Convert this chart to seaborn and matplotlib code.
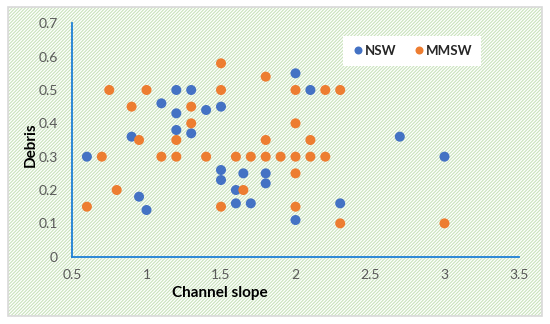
import pandas as pd
import matplotlib
matplotlib.use("Agg")
import matplotlib.pyplot as plt
import seaborn as sns
from matplotlib.patches import Rectangle

# values
nsw_slope = [0.6, 0.9, 0.95, 1.0, 1.1, 1.2, 1.2, 1.2, 1.3, 1.3, 1.4, 1.5, 1.5, 1.5,
             1.6, 1.6, 1.65, 1.7, 1.8, 1.8, 2.0, 2.0, 2.1, 2.3, 2.7, 3.0]
nsw_debris = [0.30, 0.36, 0.18, 0.14, 0.46, 0.50, 0.43, 0.38, 0.50, 0.37, 0.44, 0.45, 0.26, 0.23,
              0.20, 0.16, 0.25, 0.16, 0.25, 0.22, 0.55, 0.11, 0.50, 0.16, 0.36, 0.30]

mmsw_slope = [0.6, 0.7, 0.75, 0.8, 0.9, 0.95, 1.0, 1.1, 1.2, 1.2, 1.3, 1.3, 1.4, 1.5, 1.5, 1.5,
              1.6, 1.65, 1.7, 1.8, 1.8, 1.8, 1.9, 2.0, 2.0, 2.0, 2.0, 2.0, 2.1, 2.1,
              2.2, 2.2, 2.3, 2.3, 3.0]
mmsw_debris = [0.15, 0.30, 0.50, 0.20, 0.45, 0.35, 0.50, 0.30, 0.35, 0.30, 0.45, 0.40, 0.30, 0.58, 0.50, 0.15,
               0.30, 0.20, 0.30, 0.54, 0.35, 0.30, 0.30, 0.50, 0.40, 0.30, 0.25, 0.15, 0.35, 0.30,
               0.50, 0.30, 0.50, 0.10, 0.10]

x_ticks = [0.5, 1, 1.5, 2, 2.5, 3, 3.5]
x_tick_labels = ["0.5", "1", "1.5", "2", "2.5", "3", "3.5"]
y_ticks = [0, 0.1, 0.2, 0.3, 0.4, 0.5, 0.6, 0.7]
y_tick_labels = ["0", "0.1", "0.2", "0.3", "0.4", "0.5", "0.6", "0.7"]

df = pd.concat([
    pd.DataFrame({"slope": nsw_slope, "debris": nsw_debris, "group": "NSW"}),
    pd.DataFrame({"slope": mmsw_slope, "debris": mmsw_debris, "group": "MMSW"}),
], ignore_index=True)

sns.set_theme(style="white")
plt.rcParams["font.family"] = ["Lato", "DejaVu Sans"]
plt.rcParams["hatch.linewidth"] = 0.8

blue = "#4472C4"
orange = "#ED7D31"
axis_blue = "#1E7FD6"
grey_text = "#595959"

fig = plt.figure(figsize=(5.5, 3.24), dpi=100)

# hatched chart area with thin grey border, like the Excel chart area
fig.patches.append(Rectangle((8 / 550, 1 - 316 / 324), 534 / 550, 309 / 324,
                             transform=fig.transFigure, facecolor="white",
                             edgecolor="#C9E2BC", hatch="/" * 10, lw=0, zorder=-2))
fig.patches.append(Rectangle((8 / 550, 1 - 316 / 324), 534 / 550, 309 / 324,
                             transform=fig.transFigure, facecolor="none",
                             edgecolor="#D9D9D9", lw=1.2, zorder=-1))

ax = fig.add_axes([72 / 550, 1 - 256.7 / 324, 447 / 550, 233.4 / 324])
ax.set_facecolor("none")
ax.set_zorder(1)

sns.scatterplot(data=df, x="slope", y="debris", hue="group",
                palette={"NSW": blue, "MMSW": orange},
                s=52, edgecolor="none", ax=ax, zorder=3)

ax.set_xlim(0.5, 3.5)
ax.set_ylim(0, 0.7)
ax.set_xticks(x_ticks)
ax.set_xticklabels(x_tick_labels)
ax.set_yticks(y_ticks)
ax.set_yticklabels(y_tick_labels)

for side in ["top", "right"]:
    ax.spines[side].set_visible(False)
for side in ["left", "bottom"]:
    ax.spines[side].set_color(axis_blue)
    ax.spines[side].set_linewidth(1.3)

ax.tick_params(axis="both", direction="out", length=4, width=1.2,
               color=axis_blue, labelcolor=grey_text, labelsize=10, pad=6)
ax.tick_params(axis="x", pad=5)

ax.set_xlabel("Channel slope", fontsize=11, fontweight="bold", color="black")
ax.xaxis.set_label_coords((220 - 72) / 447, -0.127)
ax.set_ylabel("Debris", fontsize=11, fontweight="bold", color="black")
ax.yaxis.set_label_coords(-(72 - 38) / 447, 0.48)

handles, labels = ax.get_legend_handles_labels()
leg = ax.legend(handles, labels, loc="center",
                bbox_to_anchor=(412 / 550, 1 - 51 / 324),
                bbox_transform=fig.transFigure, ncol=2, frameon=True,
                fancybox=False, framealpha=1, edgecolor="white",
                handletextpad=0.0, columnspacing=1.2, handlelength=1.0,
                markerscale=0.8, borderpad=0.7, prop={"weight": "bold", "size": 9.5})
leg.get_frame().set_linewidth(0)

plt.savefig("out.png", dpi=100)
plt.close()
